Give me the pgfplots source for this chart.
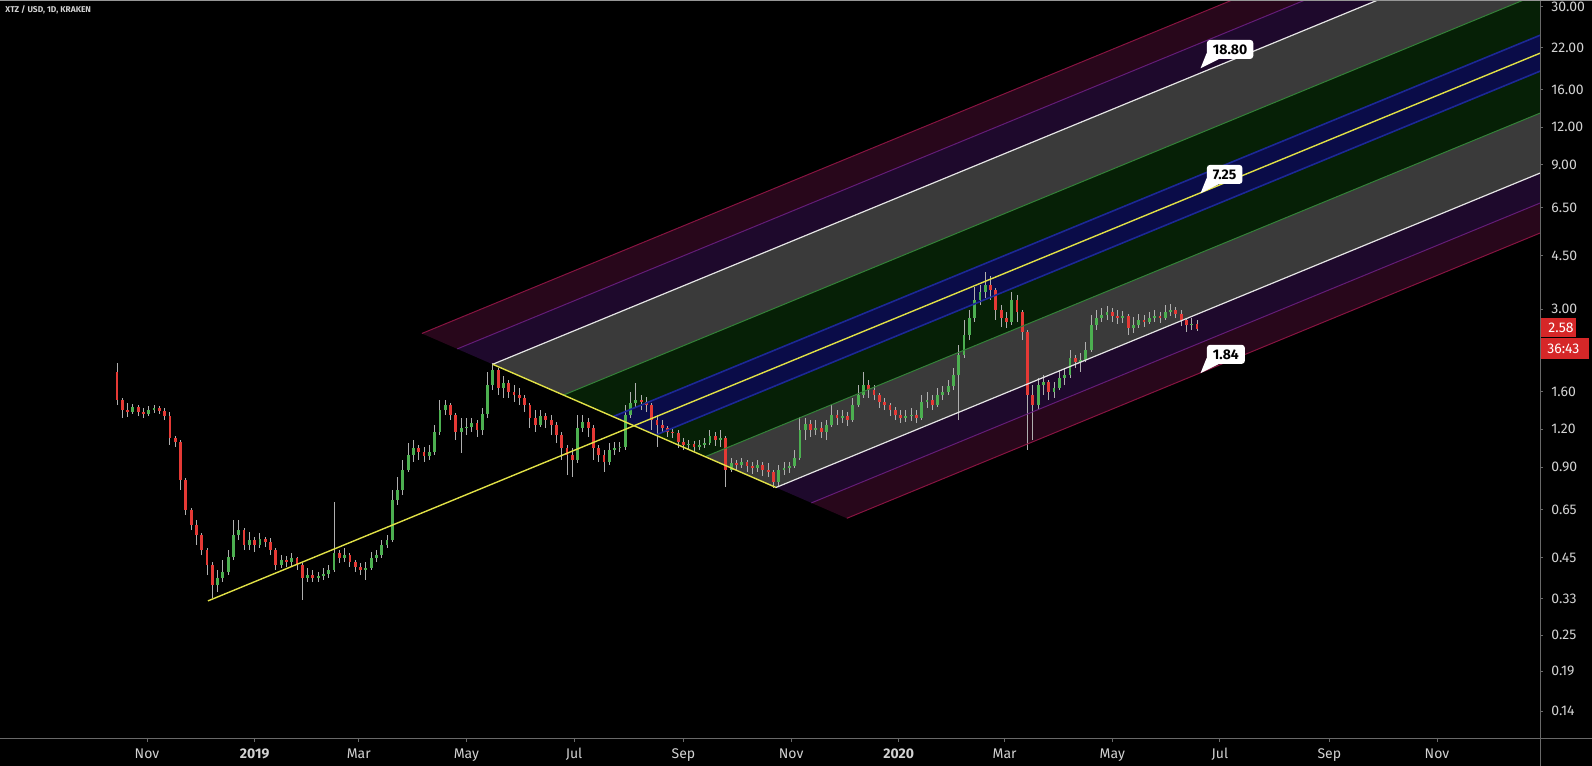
\documentclass[border=0pt]{standalone}
\usepackage{fontspec}
\setmainfont{Fira Sans}
\usepackage{pgfplots}
\usepackage{pgfplotstable}
\pgfplotsset{compat=1.18}

\definecolor{tvgreen}{RGB}{76,175,80}
\definecolor{tvred}{RGB}{229,57,53}
\definecolor{boxred}{RGB}{214,39,40}
\definecolor{wickgray}{RGB}{175,175,175}
\definecolor{bandgray}{RGB}{58,58,58}
\definecolor{bandgreen}{RGB}{6,32,6}
\definecolor{bandblue}{RGB}{10,12,72}
\definecolor{bandpurple}{RGB}{30,9,44}
\definecolor{bandmaroon}{RGB}{40,7,27}
\definecolor{lgreen}{RGB}{52,130,56}
\definecolor{lblue}{RGB}{28,40,150}
\definecolor{lyellow}{RGB}{225,225,70}
\definecolor{lpurple}{RGB}{100,28,120}
\definecolor{lpink}{RGB}{135,20,65}
\definecolor{lwhite}{RGB}{230,230,230}
\definecolor{axisgray}{RGB}{105,105,105}
\definecolor{ticktext}{RGB}{210,210,210}

% XTZ/USD candles, 3-day steps; d = days since 2018-11-01
\pgfplotstableread{
d o h l c
-17 1.857 1.989 1.444 1.500
-14 1.500 1.524 1.308 1.390
-11 1.390 1.466 1.318 1.369
-8 1.369 1.455 1.348 1.422
-5 1.422 1.444 1.328 1.369
-2 1.369 1.411 1.308 1.348
1 1.348 1.433 1.328 1.390
4 1.390 1.444 1.359 1.411
7 1.411 1.433 1.348 1.379
10 1.379 1.411 1.288 1.328
13 1.328 1.369 1.065 1.123
16 1.123 1.140 1.049 1.089
19 1.089 1.106 0.756 0.816
22 0.816 0.828 0.625 0.649
25 0.649 0.659 0.557 0.579
28 0.579 0.601 0.497 0.536
31 0.536 0.544 0.460 0.478
34 0.478 0.486 0.395 0.427
37 0.427 0.436 0.332 0.366
40 0.366 0.411 0.347 0.386
43 0.386 0.443 0.375 0.405
46 0.405 0.478 0.395 0.453
49 0.453 0.601 0.443 0.536
52 0.536 0.601 0.516 0.557
55 0.557 0.566 0.478 0.497
58 0.497 0.549 0.478 0.516
61 0.516 0.528 0.471 0.497
64 0.497 0.544 0.486 0.520
67 0.520 0.528 0.489 0.508
70 0.508 0.524 0.460 0.478
73 0.478 0.486 0.411 0.427
76 0.427 0.460 0.417 0.443
79 0.443 0.457 0.420 0.436
82 0.436 0.467 0.424 0.450
85 0.450 0.453 0.411 0.427
88 0.427 0.433 0.327 0.386
91 0.386 0.417 0.375 0.395
94 0.395 0.411 0.375 0.386
97 0.386 0.405 0.375 0.392
100 0.392 0.417 0.381 0.399
103 0.399 0.427 0.386 0.411
106 0.411 0.689 0.405 0.467
109 0.467 0.478 0.433 0.450
112 0.450 0.486 0.436 0.460
115 0.460 0.467 0.420 0.436
118 0.436 0.443 0.405 0.420
121 0.420 0.433 0.395 0.411
124 0.411 0.436 0.381 0.417
127 0.417 0.471 0.411 0.450
130 0.450 0.478 0.436 0.460
133 0.460 0.516 0.450 0.497
136 0.497 0.536 0.486 0.516
139 0.516 0.756 0.508 0.700
142 0.700 0.834 0.674 0.756
145 0.756 0.950 0.727 0.880
148 0.880 1.081 0.867 0.987
151 0.987 1.106 0.936 1.041
154 1.041 1.065 0.950 1.009
157 1.009 1.049 0.936 0.980
160 0.980 1.065 0.950 1.009
163 1.009 1.240 0.987 1.176
166 1.176 1.500 1.149 1.390
169 1.390 1.500 1.338 1.444
172 1.444 1.466 1.288 1.338
175 1.338 1.359 1.106 1.176
178 1.176 1.308 1.002 1.212
181 1.212 1.308 1.149 1.221
184 1.221 1.308 1.176 1.259
187 1.259 1.288 1.132 1.194
190 1.194 1.411 1.149 1.348
193 1.348 1.857 1.308 1.682
196 1.682 1.989 1.619 1.886
199 1.886 1.915 1.559 1.644
202 1.644 1.802 1.524 1.708
205 1.708 1.748 1.524 1.594
208 1.594 1.682 1.477 1.559
211 1.559 1.644 1.444 1.524
214 1.524 1.559 1.369 1.444
217 1.444 1.466 1.212 1.308
220 1.308 1.390 1.176 1.240
223 1.240 1.390 1.221 1.328
226 1.328 1.359 1.212 1.288
229 1.288 1.338 1.149 1.240
232 1.240 1.269 1.081 1.149
235 1.149 1.176 0.950 1.041
238 1.041 1.065 0.847 0.987
241 0.987 1.041 0.834 0.950
244 0.950 1.338 0.929 1.212
247 1.212 1.338 1.176 1.269
250 1.269 1.308 1.132 1.212
253 1.212 1.240 0.950 1.041
256 1.041 1.065 0.936 0.987
259 0.987 1.025 0.867 0.936
262 0.936 1.081 0.914 1.025
265 1.025 1.089 0.987 1.041
268 1.041 1.089 1.009 1.049
271 1.049 1.444 1.025 1.338
274 1.338 1.594 1.308 1.466
277 1.466 1.708 1.411 1.500
280 1.500 1.559 1.390 1.477
283 1.477 1.535 1.369 1.444
286 1.444 1.466 1.194 1.288
289 1.288 1.338 1.049 1.240
292 1.240 1.288 1.167 1.212
295 1.212 1.231 1.132 1.176
298 1.176 1.212 1.123 1.167
301 1.167 1.194 1.041 1.089
304 1.089 1.123 1.025 1.065
307 1.065 1.106 1.025 1.073
310 1.073 1.098 1.009 1.049
313 1.049 1.106 1.025 1.065
316 1.065 1.123 1.041 1.081
319 1.081 1.194 1.065 1.140
322 1.140 1.176 1.057 1.106
325 1.106 1.194 1.049 1.123
328 1.123 1.140 0.773 0.880
331 0.880 0.965 0.867 0.929
334 0.929 0.950 0.880 0.914
337 0.914 0.965 0.893 0.936
340 0.936 0.950 0.867 0.907
343 0.907 0.936 0.854 0.893
346 0.893 0.950 0.867 0.914
349 0.914 0.936 0.841 0.880
352 0.880 0.929 0.834 0.867
355 0.867 0.880 0.768 0.804
358 0.804 0.914 0.779 0.880
361 0.880 0.936 0.847 0.893
364 0.893 0.936 0.860 0.907
367 0.907 1.025 0.893 0.965
370 0.965 1.318 0.950 1.194
373 1.194 1.308 1.106 1.249
376 1.249 1.288 1.132 1.194
379 1.194 1.288 1.149 1.212
382 1.212 1.269 1.123 1.176
385 1.176 1.288 1.106 1.240
388 1.240 1.444 1.221 1.338
391 1.338 1.390 1.240 1.308
394 1.308 1.390 1.259 1.328
397 1.328 1.369 1.231 1.288
400 1.288 1.524 1.269 1.444
403 1.444 1.682 1.422 1.559
406 1.559 1.857 1.524 1.682
409 1.682 1.748 1.524 1.619
412 1.619 1.682 1.500 1.559
415 1.559 1.582 1.411 1.477
418 1.477 1.524 1.390 1.444
421 1.444 1.466 1.328 1.390
424 1.390 1.422 1.288 1.338
427 1.338 1.390 1.259 1.308
430 1.308 1.390 1.269 1.328
433 1.328 1.411 1.278 1.338
436 1.338 1.390 1.259 1.308
439 1.308 1.559 1.288 1.477
442 1.477 1.594 1.411 1.500
445 1.500 1.559 1.390 1.444
448 1.444 1.644 1.422 1.559
451 1.559 1.669 1.500 1.594
454 1.594 1.748 1.559 1.669
457 1.669 1.915 1.619 1.816
460 1.816 2.282 1.288 2.115
463 2.115 2.761 2.067 2.463
466 2.463 2.980 2.370 2.803
469 2.803 3.550 2.719 3.216
472 3.216 3.605 3.095 3.418
475 3.418 3.980 3.265 3.605
478 3.605 3.860 3.216 3.470
481 3.470 3.524 2.761 2.980
484 2.980 3.095 2.618 2.803
487 2.803 2.935 2.598 2.719
490 2.719 3.418 2.658 3.216
493 3.216 3.341 2.719 2.935
496 2.935 2.980 2.370 2.519
499 2.519 2.558 1.025 1.559
502 1.559 1.682 1.106 1.444
505 1.444 1.775 1.390 1.682
508 1.682 1.816 1.559 1.722
511 1.722 1.748 1.500 1.594
514 1.594 1.722 1.524 1.644
517 1.644 1.886 1.619 1.775
520 1.775 1.915 1.682 1.816
523 1.816 2.197 1.775 2.067
526 2.067 2.115 1.915 2.004
529 2.004 2.147 1.857 2.035
532 2.035 2.334 2.004 2.197
535 2.197 2.868 2.164 2.658
538 2.658 2.980 2.558 2.803
541 2.803 3.025 2.719 2.868
544 2.868 3.072 2.761 2.935
547 2.935 3.025 2.719 2.846
550 2.846 2.980 2.678 2.803
553 2.803 2.957 2.699 2.846
556 2.846 2.890 2.463 2.598
559 2.598 2.825 2.500 2.658
562 2.658 2.890 2.598 2.761
565 2.761 2.868 2.618 2.719
568 2.719 2.935 2.678 2.803
571 2.803 2.980 2.719 2.846
574 2.846 2.935 2.699 2.803
577 2.803 3.095 2.761 2.935
580 2.935 3.120 2.846 2.980
583 2.980 3.048 2.803 2.890
586 2.890 2.980 2.638 2.761
589 2.761 2.803 2.519 2.658
592 2.658 2.803 2.558 2.678
595 2.678 2.761 2.539 2.580
}\candles

\pgfplotstablegetrowsof{\candles}
\pgfmathtruncatemacro\lastrow{\pgfplotsretval-1}
\gdef\wicklist{}\gdef\uplist{}\gdef\downlist{}
\pgfplotsforeachungrouped \i in {0,...,\lastrow}{%
  \pgfplotstablegetelem{\i}{d}\of\candles\let\cd\pgfplotsretval
  \pgfplotstablegetelem{\i}{o}\of\candles\let\co\pgfplotsretval
  \pgfplotstablegetelem{\i}{h}\of\candles\let\ch\pgfplotsretval
  \pgfplotstablegetelem{\i}{l}\of\candles\let\cl\pgfplotsretval
  \pgfplotstablegetelem{\i}{c}\of\candles\let\cc\pgfplotsretval
  \xdef\wicklist{\wicklist(\cd,\cl)(\cd,\ch)(\cd,nan)}%
  \ifdim\cc pt<\co pt
    \xdef\downlist{\downlist(\cd,\co)(\cd,\cc)(\cd,nan)}%
  \else
    \xdef\uplist{\uplist(\cd,\co)(\cd,\cc)(\cd,nan)}%
  \fi
}

\tikzset{
  labelbox/.style={fill=white, rounded corners=1.5pt, text=black,
    font=\bfseries\fontsize{7}{8}\selectfont, inner xsep=3pt, inner ysep=0pt,
    minimum height=9.5pt, anchor=south west, xshift=3pt, yshift=4.5pt},
}
\pgfplotsset{
  wickstyle/.style={draw=wickgray, line width=0.45pt, mark=none},
  upstyle/.style={draw=tvgreen, line width=1.4pt, mark=none},
  downstyle/.style={draw=tvred, line width=1.4pt, mark=none},
}

\begin{document}
\begin{tikzpicture}[x=0.5pt,y=0.5pt]
\fill[black] (0,-27) rectangle (1592,739);
\begin{axis}[
  at={(0,0)}, anchor=south west,
  scale only axis, width=770pt, height=369.5pt,
  xmin=-83.30, xmax=789.37,
  ymode=log, ymin=0.11325, ymax=31.64,
  axis x line*=bottom, axis y line*=right,
  axis line style={draw=none},
  xtick={0,61,120,181,242,304,365,426,486,547,608,670,731},
  xticklabels={Nov,\textbf{2019},Mar,May,Jul,Sep,Nov,\textbf{2020},Mar,May,Jul,Sep,Nov},
  ytick={0.14,0.19,0.25,0.33,0.45,0.65,0.9,1.2,1.6,3,4.5,6.5,9,12,16,22,30},
  yticklabels={0.14,0.19,0.25,0.33,0.45,0.65,0.90,1.20,1.60,3.00,4.50,6.50,9.00,12.00,16.00,22.00,30.00},
  xminorticks=false, yminorticks=false,
  tick align=outside,
  major tick length=1.5pt,
  tick style={draw=axisgray, line width=0.5pt},
  xticklabel style={font=\fontsize{7}{8}\selectfont, text=ticktext, anchor=north, inner sep=0pt, yshift=-3pt},
  yticklabel style={font=\fontsize{7}{8}\selectfont, text=ticktext, anchor=west, inner sep=0pt, xshift=4pt},
  unbounded coords=jump,
]
% pitchfork bands (levels 1.5,1.25,1,0.5,0.15,0,-0.15,-0.5,-1,-1.25,-1.5)
\addplot[fill=bandmaroon, draw=none] coordinates {(155.77,2.491) (175.83,2.215) (800,70.12) (800,88.10)} -- cycle;
\addplot[fill=bandpurple, draw=none] coordinates {(175.83,2.215) (195.90,1.970) (800,55.79) (800,70.12)} -- cycle;
\addplot[fill=bandgray, draw=none] coordinates {(195.90,1.970) (236.04,1.558) (800,35.33) (800,55.79)} -- cycle;
\addplot[fill=bandgreen, draw=none] coordinates {(236.04,1.558) (264.13,1.322) (800,25.65) (800,35.33)} -- cycle;
\addplot[fill=bandblue, draw=none] coordinates {(264.13,1.322) (288.21,1.148) (800,19.51) (800,25.65)} -- cycle;
\addplot[fill=bandgreen, draw=none] coordinates {(288.21,1.148) (316.31,0.9739) (800,14.17) (800,19.51)} -- cycle;
\addplot[fill=bandgray, draw=none] coordinates {(316.31,0.9739) (356.44,0.7702) (800,8.971) (800,14.17)} -- cycle;
\addplot[fill=bandpurple, draw=none] coordinates {(356.44,0.7702) (376.51,0.6849) (800,7.139) (800,8.971)} -- cycle;
\addplot[fill=bandmaroon, draw=none] coordinates {(376.51,0.6849) (396.58,0.6090) (800,5.680) (800,7.139)} -- cycle;

% candles
\edef\tmp{\noexpand\addplot[wickstyle] coordinates {\wicklist};}\tmp
\edef\tmp{\noexpand\addplot[upstyle] coordinates {\uplist};}\tmp
\edef\tmp{\noexpand\addplot[downstyle] coordinates {\downlist};}\tmp

% pitchfork lines
\addplot[lpink, line width=0.5pt] coordinates {(155.77,2.491) (800,88.10)};
\addplot[lpurple, line width=0.5pt] coordinates {(175.83,2.215) (800,70.12)};
\addplot[lwhite, line width=0.6pt] coordinates {(195.90,1.970) (800,55.79)};
\addplot[lgreen, line width=0.5pt] coordinates {(236.04,1.558) (800,35.33)};
\addplot[lblue, line width=0.8pt] coordinates {(264.13,1.322) (800,25.65)};
\addplot[lblue, line width=0.8pt] coordinates {(288.21,1.148) (800,19.51)};
\addplot[lgreen, line width=0.5pt] coordinates {(316.31,0.9739) (800,14.17)};
\addplot[lwhite, line width=0.6pt] coordinates {(356.44,0.7702) (800,8.971)};
\addplot[lpurple, line width=0.5pt] coordinates {(376.51,0.6849) (800,7.139)};
\addplot[lpink, line width=0.5pt] coordinates {(396.58,0.6090) (800,5.680)};
\addplot[lyellow, line width=0.7pt] coordinates {(34.57,0.3245) (800,22.37)};
\addplot[lyellow, line width=0.7pt] coordinates {(195.90,1.970) (356.44,0.7702)};

% price labels
\node[labelbox] (lb1) at (axis cs:597,18.80) {18.80};
\fill[white] (axis cs:597,18.80) -- ([yshift=3pt]lb1.south west) -- ([xshift=6pt]lb1.south west) -- cycle;
\node[labelbox] (lb2) at (axis cs:597,7.25) {7.25};
\fill[white] (axis cs:597,7.25) -- ([yshift=3pt]lb2.south west) -- ([xshift=6pt]lb2.south west) -- cycle;
\node[labelbox] (lb3) at (axis cs:597,1.84) {1.84};
\fill[white] (axis cs:597,1.84) -- ([yshift=3pt]lb3.south west) -- ([xshift=6pt]lb3.south west) -- cycle;
\end{axis}
% frame lines
\draw[axisgray, line width=0.5pt] (0,0) -- (1592,0);
\draw[axisgray, line width=0.5pt] (1540,-27) -- (1540,739);
\draw[axisgray!70, line width=0.6pt] (0,738.5) -- (1592,738.5);
% title
\node[anchor=west, inner sep=0pt, text=ticktext, font=\bfseries\fontsize{4.2}{5}\selectfont] at (5,729) {XTZ / USD, 1D, KRAKEN};
% last price boxes
\fill[boxred] (1541,402) rectangle (1576,421);
\node[anchor=west, inner sep=0pt, text=white, font=\fontsize{7}{8}\selectfont] at (1548,411.5) {2.58};
\fill[boxred] (1541,380) rectangle (1589,401);
\node[anchor=west, inner sep=0pt, text=white, font=\fontsize{7}{8}\selectfont] at (1547,390.5) {36:43};
\pgfresetboundingbox
\useasboundingbox (0,-27) rectangle (1592,739);
\end{tikzpicture}
\end{document}
